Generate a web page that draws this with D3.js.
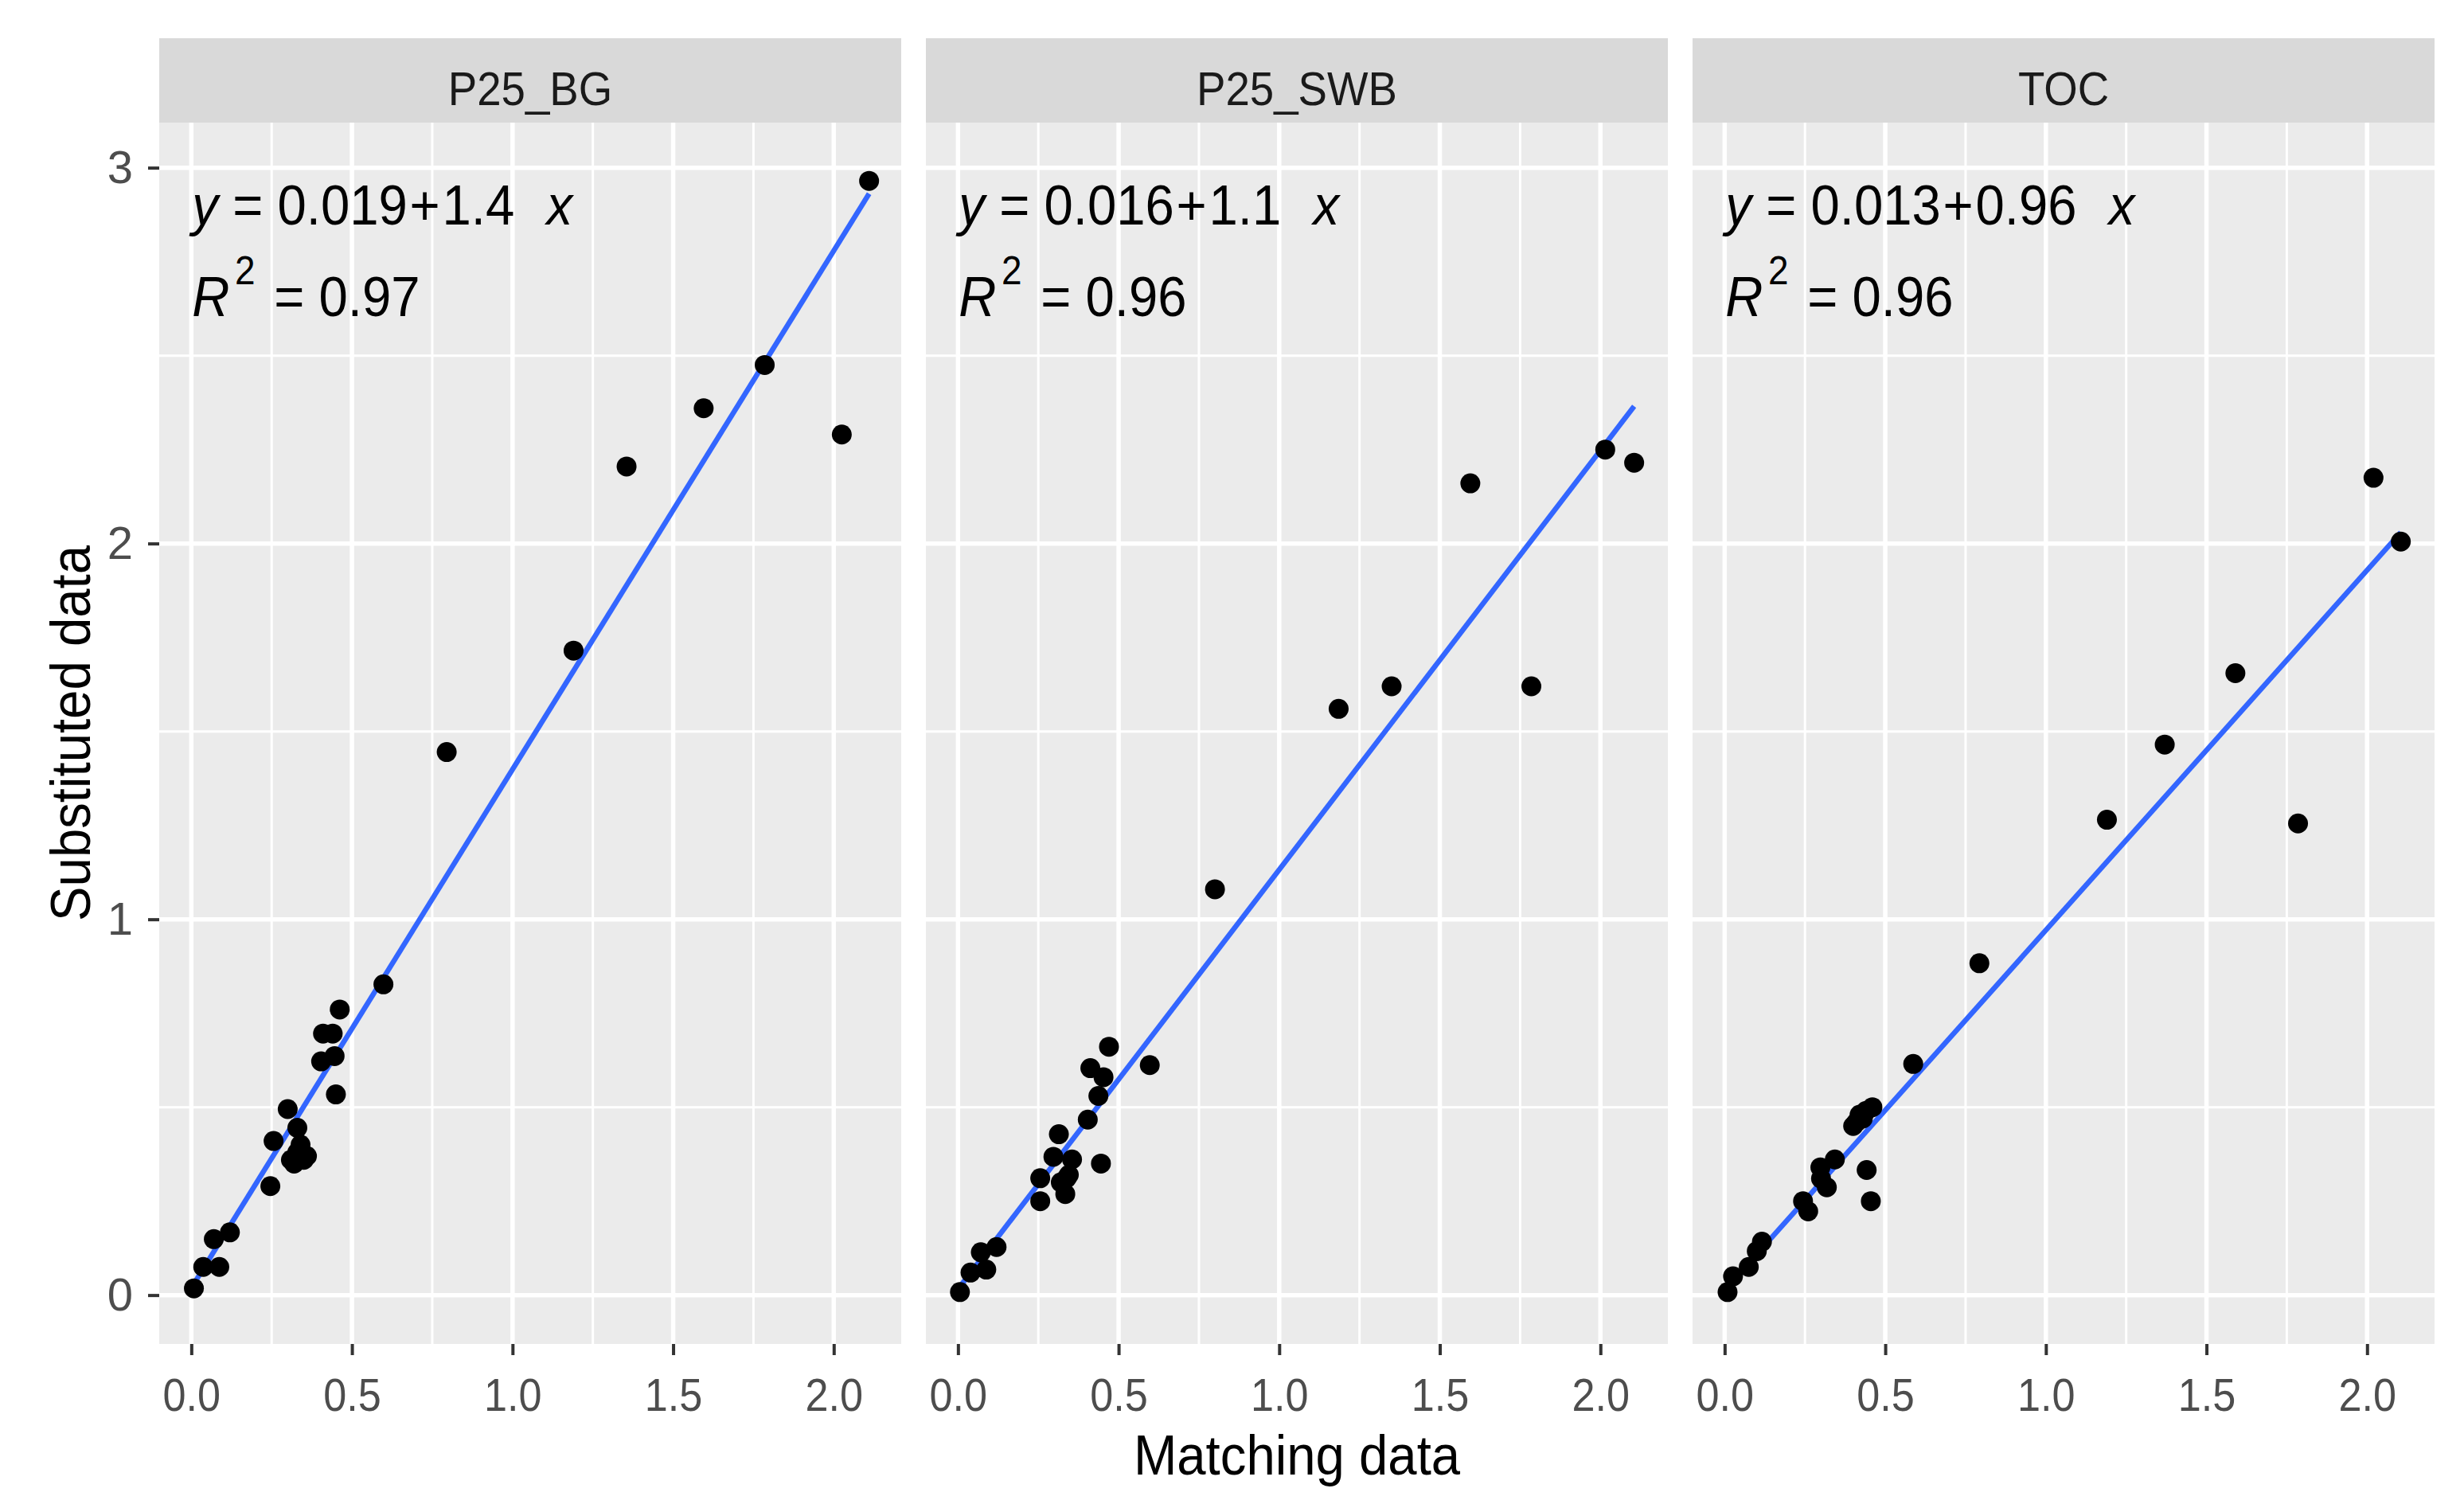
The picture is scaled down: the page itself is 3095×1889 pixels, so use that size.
<!DOCTYPE html>
<html>
<head>
<meta charset="utf-8">
<script src="https://cdn.jsdelivr.net/npm/d3@7"></script>
<style>
  body { margin: 0; background: #fff; }
  text { font-family: "Liberation Sans", Arial, sans-serif; }
</style>
</head>
<body>
<svg id="chart"></svg>
<script>
// facet names
const panels = ["P25_BG", "P25_SWB", "TOC"];

// matching data (x) / substituted data (y)
const bgX = [0.008, 0.037, 0.087, 0.07, 0.12, 0.246, 0.256, 0.30, 0.33, 0.31, 0.33, 0.35, 0.34, 0.32, 0.36,
    0.45, 0.404, 0.446, 0.41, 0.44, 0.462, 0.598, 0.795, 1.19, 1.355, 1.595, 1.785, 2.025, 2.11];
const bgY = [0.018, 0.075, 0.075, 0.149, 0.167, 0.29, 0.41, 0.495, 0.445, 0.36, 0.38, 0.36, 0.40, 0.35, 0.37,
    0.534, 0.622, 0.636, 0.696, 0.696, 0.76, 0.827, 1.445, 1.715, 2.205, 2.36, 2.475, 2.29, 2.965];

const swbX = [0.006, 0.039, 0.088, 0.071, 0.12, 0.256, 0.256, 0.334, 0.338, 0.297, 0.355, 0.314, 0.32, 0.345,
    0.445, 0.404, 0.437, 0.453, 0.412, 0.47, 0.597, 0.80, 1.185, 1.35, 1.595, 1.785, 2.015, 2.105];
const swbY = [0.008, 0.06, 0.068, 0.114, 0.128, 0.25, 0.311, 0.269, 0.311, 0.368, 0.361, 0.428, 0.30, 0.32,
    0.35, 0.467, 0.53, 0.58, 0.604, 0.661, 0.612, 1.08, 1.56, 1.62, 2.16, 1.62, 2.25, 2.215];

const tocX = [0.009, 0.026, 0.075, 0.10, 0.116, 0.26, 0.244, 0.318, 0.298, 0.343, 0.30, 0.455, 0.442,
    0.40, 0.42, 0.44, 0.46, 0.41, 0.43, 0.587, 0.793, 1.19, 1.37, 1.59, 1.785, 2.02, 2.105];
const tocY = [0.008, 0.05, 0.075, 0.117, 0.142, 0.223, 0.25, 0.287, 0.34, 0.361, 0.31, 0.25, 0.333,
    0.45, 0.48, 0.49, 0.50, 0.46, 0.47, 0.615, 0.883, 1.265, 1.465, 1.655, 1.255, 2.175, 2.005];

// fitted lines
const fitIntercept = [0.019, 0.016, 0.013];
const fitSlope = [1.38, 1.116, 0.958];

// equation labels
const eqIntercept = ["0.019", "0.016", "0.013"];
const eqSlope = ["1.4", "1.1", "0.96"];
const r2Text = ["0.97", "0.96", "0.96"];

const xTicks = [0, 0.5, 1, 1.5, 2];
const xMinor = [0.25, 0.75, 1.25, 1.75];
const yTicks = [0, 1, 2, 3];
const yMinor = [0.5, 1.5, 2.5];

const WIDTH = 3095, HEIGHT = 1889;
const panelLeft = 200, panelW = 932, panelGap = 31;
const stripTop = 48, stripH = 106;
const plotTop = stripTop + stripH, plotH = 1534;
const SQ = 0.9; // horizontal squeeze of the text

const seriesX = [bgX, swbX, tocX];
const seriesY = [bgY, swbY, tocY];

const svg = d3.select("#chart")
    .attr("width", WIDTH)
    .attr("height", HEIGHT);

svg.append("rect").attr("width", WIDTH).attr("height", HEIGHT).attr("fill", "#fff");

const x = d3.scaleLinear().domain([-0.1, 2.21]).range([0, panelW]);
const y = d3.scaleLinear().domain([-0.13, 3.12]).range([plotH, 0]);

panels.forEach((name, i) => {
    const g = svg.append("g")
        .attr("transform", `translate(${panelLeft + i * (panelW + panelGap)},0)`);

    // strip
    g.append("rect")
        .attr("x", 0).attr("y", stripTop)
        .attr("width", panelW).attr("height", stripH)
        .attr("fill", "#d9d9d9");
    g.append("text")
        .attr("transform", `translate(${panelW / 2},132) scale(0.91,1)`)
        .attr("text-anchor", "middle")
        .attr("font-size", 60)
        .attr("fill", "#1a1a1a")
        .text(name);

    const p = g.append("g").attr("transform", `translate(0,${plotTop})`);

    p.append("rect")
        .attr("width", panelW).attr("height", plotH)
        .attr("fill", "#ebebeb");

    // grid
    p.selectAll(".xminor").data(xMinor).enter().append("line")
        .attr("x1", d => x(d)).attr("x2", d => x(d))
        .attr("y1", 0).attr("y2", plotH)
        .attr("stroke", "#fff").attr("stroke-width", 3);
    p.selectAll(".yminor").data(yMinor).enter().append("line")
        .attr("y1", d => y(d)).attr("y2", d => y(d))
        .attr("x1", 0).attr("x2", panelW)
        .attr("stroke", "#fff").attr("stroke-width", 3);
    p.selectAll(".xmajor").data(xTicks).enter().append("line")
        .attr("x1", d => x(d)).attr("x2", d => x(d))
        .attr("y1", 0).attr("y2", plotH)
        .attr("stroke", "#fff").attr("stroke-width", 5.5);
    p.selectAll(".ymajor").data(yTicks).enter().append("line")
        .attr("y1", d => y(d)).attr("y2", d => y(d))
        .attr("x1", 0).attr("x2", panelW)
        .attr("stroke", "#fff").attr("stroke-width", 5.5);

    // x axis
    const xa = p.append("g")
        .attr("transform", `translate(0,${plotH})`)
        .call(d3.axisBottom(x).tickValues(xTicks).tickFormat(d3.format(".1f")).tickSize(14).tickPadding(29));
    xa.select(".domain").remove();
    xa.selectAll("line").attr("stroke", "#333").attr("stroke-width", 4);
    xa.selectAll("text")
        .attr("font-size", 58).attr("fill", "#4d4d4d")
        .attr("font-family", "Liberation Sans, Arial, sans-serif")
        .attr("transform", `scale(${SQ},1)`);

    if (i === 0) {
        const ya = p.append("g")
            .call(d3.axisLeft(y).tickValues(yTicks).tickFormat(d3.format("d")).tickSize(14).tickPadding(19));
        ya.select(".domain").remove();
        ya.selectAll("line").attr("stroke", "#333").attr("stroke-width", 4);
        ya.selectAll("text")
            .attr("font-size", 58).attr("fill", "#4d4d4d")
            .attr("font-family", "Liberation Sans, Arial, sans-serif");
    }

    // fitted line
    const xs = seriesX[i];
    const ext = d3.extent(xs);
    p.append("path")
        .datum(ext)
        .attr("d", d3.line()
            .x(d => x(d))
            .y(d => y(fitIntercept[i] + fitSlope[i] * d)))
        .attr("stroke", "#3366ff").attr("stroke-width", 6.5).attr("fill", "none");

    // points
    p.selectAll("circle")
        .data(xs.map((v, k) => [v, seriesY[i][k]]))
        .enter().append("circle")
        .attr("cx", d => x(d[0]))
        .attr("cy", d => y(d[1]))
        .attr("r", 12.5)
        .attr("fill", "#000");

    // equation label, plotmath-like spacing
    const eq = g.append("text")
        .attr("transform", `translate(${x(0) + 1},282) scale(0.92,1)`)
        .attr("font-size", 71).attr("fill", "#000");
    eq.append("tspan").attr("font-style", "italic").text("y");
    eq.append("tspan").text(` = ${eqIntercept[i]}`);
    eq.append("tspan").attr("dx", 3).text("+");
    eq.append("tspan").attr("dx", 3).text(eqSlope[i]);
    eq.append("tspan").attr("dx", 24).attr("font-style", "italic").text(" x");

    const r2 = g.append("text")
        .attr("transform", `translate(${x(0) + 1},397) scale(0.92,1)`)
        .attr("font-size", 71).attr("fill", "#000");
    r2.append("tspan").attr("font-style", "italic").text("R");
    r2.append("tspan").attr("font-size", 50).attr("dy", -40).attr("dx", 7).text("2");
    r2.append("tspan").attr("dy", 40).attr("dx", 6).text(` = ${r2Text[i]}`);
});

// axis titles
svg.append("text")
    .attr("transform", `translate(1629,1852) scale(0.92,1)`)
    .attr("text-anchor", "middle")
    .attr("font-size", 71).attr("fill", "#000")
    .text("Matching data");

svg.append("text")
    .attr("transform", `translate(113,921) rotate(-90) scale(0.92,1)`)
    .attr("text-anchor", "middle")
    .attr("font-size", 71).attr("fill", "#000")
    .text("Substituted data");
</script>
</body>
</html>
